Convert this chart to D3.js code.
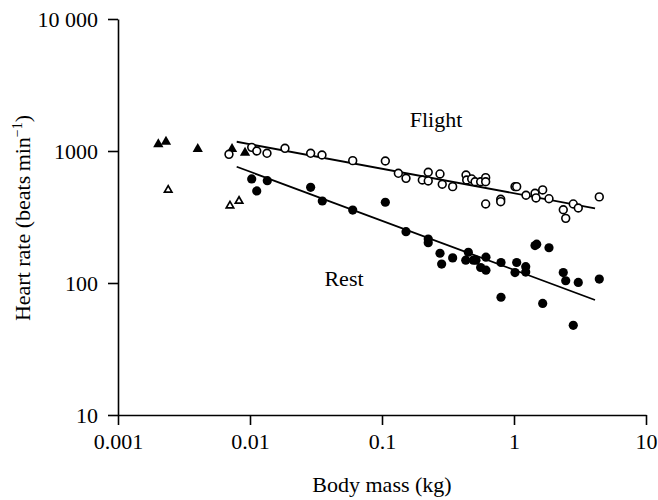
<!DOCTYPE html>
<html>
<head>
<meta charset="utf-8">
<script src="https://cdn.jsdelivr.net/npm/d3@7"></script>
<style>
  html, body { margin: 0; padding: 0; background: #fff; }
  svg { display: block; }
  text { font-family: "Liberation Serif", "Times New Roman", serif; fill: #000; }
</style>
</head>
<body>
<svg id="chart" width="658" height="500"></svg>
<script>
// ---- data ----
const xTickValues = [0.001, 0.01, 0.1, 1, 10];
const xTickLabels = ["0.001", "0.01", "0.1", "1", "10"];
const yTickValues = [10, 100, 1000, 10000];
const yTickLabels = ["10", "100", "1000", "10 000"];

// open circles: flight
const flightMass = [0.00693, 0.0103, 0.01125, 0.01345, 0.01841, 0.0288, 0.0351, 0.0600, 0.106, 0.133,
  0.152, 0.202, 0.224, 0.224, 0.275, 0.286, 0.343, 0.433, 0.438, 0.478,
  0.507, 0.559, 0.610, 0.610, 0.610, 0.793, 0.793, 1.018, 1.048, 1.233,
  1.443, 1.468, 1.649, 1.841, 2.362, 2.465, 2.812, 3.069, 4.427];
const flightRate = [944, 1066, 1000, 961, 1048, 961, 933, 845, 840, 678,
  621, 603, 690, 593, 670, 560, 537, 658, 603, 614,
  585, 585, 628, 585, 397, 431, 413, 537, 537, 462,
  478, 441, 507, 435, 359, 309, 397, 370, 449];

// filled circles: rest
const restMass = [0.0103, 0.01125, 0.01352, 0.0288, 0.0353, 0.0600, 0.106, 0.152, 0.224, 0.224,
  0.275, 0.283, 0.343, 0.451, 0.431, 0.492, 0.515, 0.613, 0.559, 0.613,
  0.797, 0.797, 1.048, 1.018, 1.227, 1.227, 1.443, 1.486, 1.841, 1.649,
  2.362, 2.465, 3.069, 4.427, 2.812];
const restRate = [614, 498, 596, 531, 418, 357, 409, 245, 215, 202,
  168, 139, 155, 171, 149, 149, 149, 157, 131, 125,
  143, 78, 143, 120, 133, 121, 192, 197, 185, 70,
  120, 104, 101, 107, 47.8];

// filled triangles (flight, small species) and open triangles (rest, small species)
const triFlightMass = [0.00202, 0.00231, 0.00402, 0.00731, 0.00917];
const triFlightRate = [1124, 1175, 1035, 1035, 971];
const triRestMass = [0.00240, 0.00705, 0.00826];
const triRestRate = [507, 385, 418];

// fitted regression lines (end points)
const fitMass = [0.00793, 4.11];
const flightFit = [1175, 368];
const restFit = [760, 74.3];

// ---- drawing ----
const svg = d3.select("#chart");
const x = d3.scaleLog().domain([0.001, 10]).range([118, 646]);
const y = d3.scaleLog().domain([10, 10000]).range([415, 19]);

const fontSize = 22;

// axes
const xAxis = d3.axisBottom(x)
  .tickValues(xTickValues)
  .tickFormat((d, i) => xTickLabels[i])
  .tickSize(10).tickSizeOuter(0).tickPadding(8);
const yAxis = d3.axisLeft(y)
  .tickValues(yTickValues)
  .tickFormat((d, i) => yTickLabels[i])
  .tickSize(10).tickSizeOuter(0).tickPadding(10);

const gx = svg.append("g").attr("transform", `translate(0,${y(10)})`).call(xAxis);
const gy = svg.append("g").attr("transform", `translate(${x(0.001)},0)`).call(yAxis);
[gx, gy].forEach(g => {
  g.selectAll("path.domain").attr("stroke", "#000").attr("stroke-width", 1.6);
  g.selectAll(".tick line").attr("stroke", "#000").attr("stroke-width", 1.6);
  g.selectAll(".tick text")
    .attr("font-family", "Liberation Serif, Times New Roman, serif")
    .attr("font-size", fontSize).attr("fill", "#000");
});

// regression lines
const line = d3.line().x(d => x(d[0])).y(d => y(d[1]));
svg.append("path")
  .attr("d", line(fitMass.map((m, i) => [m, flightFit[i]])))
  .attr("fill", "none").attr("stroke", "#000").attr("stroke-width", 1.8);
svg.append("path")
  .attr("d", line(fitMass.map((m, i) => [m, restFit[i]])))
  .attr("fill", "none").attr("stroke", "#000").attr("stroke-width", 1.8);

// triangles
const triBig = d3.symbol().type(d3.symbolTriangle).size(46);
const triSmall = d3.symbol().type(d3.symbolTriangle).size(24);
svg.append("g").selectAll("path")
  .data(triRestMass.map((m, i) => [m, triRestRate[i]]))
  .join("path")
  .attr("d", triSmall)
  .attr("transform", d => `translate(${x(d[0])},${y(d[1])})`)
  .attr("fill", "#fff").attr("stroke", "#000").attr("stroke-width", 1.7);
svg.append("g").selectAll("path")
  .data(triFlightMass.map((m, i) => [m, triFlightRate[i]]))
  .join("path")
  .attr("d", triBig)
  .attr("transform", d => `translate(${x(d[0])},${y(d[1])})`)
  .attr("fill", "#000");

// rest: filled circles
svg.append("g").selectAll("circle")
  .data(restMass.map((m, i) => [m, restRate[i]]))
  .join("circle")
  .attr("cx", d => x(d[0])).attr("cy", d => y(d[1]))
  .attr("r", 4.6).attr("fill", "#000");

// flight: open circles
svg.append("g").selectAll("circle")
  .data(flightMass.map((m, i) => [m, flightRate[i]]))
  .join("circle")
  .attr("cx", d => x(d[0])).attr("cy", d => y(d[1]))
  .attr("r", 3.9).attr("fill", "#fff").attr("stroke", "#000").attr("stroke-width", 1.6);

// annotations
svg.append("text").attr("x", 436).attr("y", 127)
  .attr("text-anchor", "middle").attr("font-size", fontSize).text("Flight");
svg.append("text").attr("x", 344).attr("y", 286)
  .attr("text-anchor", "middle").attr("font-size", fontSize).text("Rest");

// axis titles
svg.append("text").attr("x", 382).attr("y", 492)
  .attr("text-anchor", "middle").attr("font-size", fontSize).text("Body mass (kg)");

const yt = svg.append("text")
  .attr("transform", "translate(30,218) rotate(-90)")
  .attr("text-anchor", "middle").attr("font-size", fontSize);
yt.append("tspan").text("Heart rate (beats\u2009min");
yt.append("tspan").attr("font-size", 14).attr("dy", -8).text("\u22121");
yt.append("tspan").attr("dy", 8).text(")");
</script>
</body>
</html>
